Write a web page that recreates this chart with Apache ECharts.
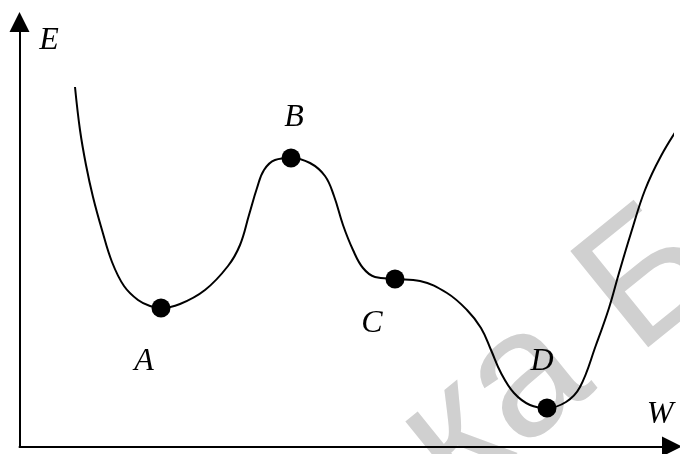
<!DOCTYPE html>
<html>
<head>
<meta charset="utf-8">
<script src="https://cdn.jsdelivr.net/npm/echarts@6/dist/echarts.min.js"></script>
<style>
  html, body { margin: 0; padding: 0; background: #fff; }
  #chart { width: 680px; height: 454px; }
</style>
</head>
<body>
<div id="chart"></div>
<script>
// energy curve E(W)
var curveW = [5.55, 6.05, 6.65, 7.35, 8.25, 9.25, 10.45, 11.85, 13.05, 14.15,
  16.05, 18.55, 20.85, 22.05, 22.95, 23.75, 24.45, 25.55, 27.15,
  29.05, 30.55, 31.45, 32.35, 33.35, 34.35, 35.55, 37.55,
  40.05, 42.75, 44.75, 46.15, 47.15, 48.15, 49.45, 51.05, 52.75,
  54.65, 56.05, 57.65, 58.95, 59.95, 61.15, 62.55, 64.15, 66.05];
var curveE = [35.95, 31.65, 28.15, 24.95, 21.65, 18.45, 16.05, 14.65, 14.05, 13.85,
  14.25, 15.65, 18.05, 20.15, 23.15, 25.85, 27.65, 28.65, 28.85,
  28.35, 27.05, 25.05, 22.15, 19.65, 17.85, 16.95, 16.75,
  16.55, 15.35, 13.65, 11.85, 9.65, 7.35, 5.35, 4.15, 3.85,
  4.45, 5.95, 10.15, 13.85, 17.35, 21.35, 25.65, 29.05, 32.15];

// marked states
var pointNames = ['A', 'B', 'C', 'D'];
var pointW = [14.15, 27.15, 37.55, 52.75];
var pointE = [13.85, 28.85, 16.75, 3.85];
var labelOffsets = [[-17, 54], [3, -40], [-23, 45], [-5, -46]];

var curve = curveW.map(function (w, i) { return [w, curveE[i]]; });
var points = pointNames.map(function (n, i) {
  return {
    name: n,
    value: [pointW[i], pointE[i]],
    label: { offset: labelOffsets[i] }
  };
});

var chart = echarts.init(document.getElementById('chart'));
chart.setOption({
  animation: false,
  backgroundColor: '#fff',
  grid: { left: 19.5, right: 8, top: 22, bottom: 7.5 },
  xAxis: {
    type: 'value', min: 0, max: 65.25,
    name: 'W', nameLocation: 'end', nameGap: -12,
    nameTextStyle: {
      fontFamily: 'Liberation Serif', fontStyle: 'italic', fontSize: 32,
      color: '#000', align: 'center', verticalAlign: 'bottom',
      padding: [0, 0, 16, 0]
    },
    axisLine: {
      lineStyle: { color: '#000', width: 2 },
      symbol: ['none', 'triangle'], symbolSize: [20, 20]
    },
    axisTick: { show: false }, axisLabel: { show: false }, splitLine: { show: false }
  },
  yAxis: {
    type: 'value', min: 0, max: 42.45,
    name: 'E', nameLocation: 'end', nameGap: -19,
    nameTextStyle: {
      fontFamily: 'Liberation Serif', fontStyle: 'italic', fontSize: 32,
      color: '#000', align: 'center', verticalAlign: 'middle',
      padding: [0, 0, 0, 59]
    },
    axisLine: {
      show: true,
      lineStyle: { color: '#000', width: 2 },
      symbol: ['none', 'triangle'], symbolSize: [20, 20]
    },
    axisTick: { show: false }, axisLabel: { show: false }, splitLine: { show: false }
  },
  // faint watermark behind the plot
  graphic: [{
    type: 'text', x: 561, y: 354, rotation: 0.68, z: -1, silent: true,
    style: {
      text: 'ка Б', font: '180px "Liberation Sans"', fill: '#d0d0d0',
      align: 'center', verticalAlign: 'middle',
      textAlign: 'center', textVerticalAlign: 'middle'
    }
  }],
  series: [
    {
      type: 'line', data: curve, smooth: 0.4, showSymbol: false, clip: false,
      lineStyle: { color: '#000', width: 2 }
    },
    {
      type: 'scatter', data: points, symbolSize: 19,
      itemStyle: { color: '#000', opacity: 1 },
      label: {
        show: true, position: 'inside', formatter: '{b}',
        fontFamily: 'Liberation Serif', fontStyle: 'italic', fontSize: 32, color: '#000'
      }
    }
  ]
});
</script>
</body>
</html>
